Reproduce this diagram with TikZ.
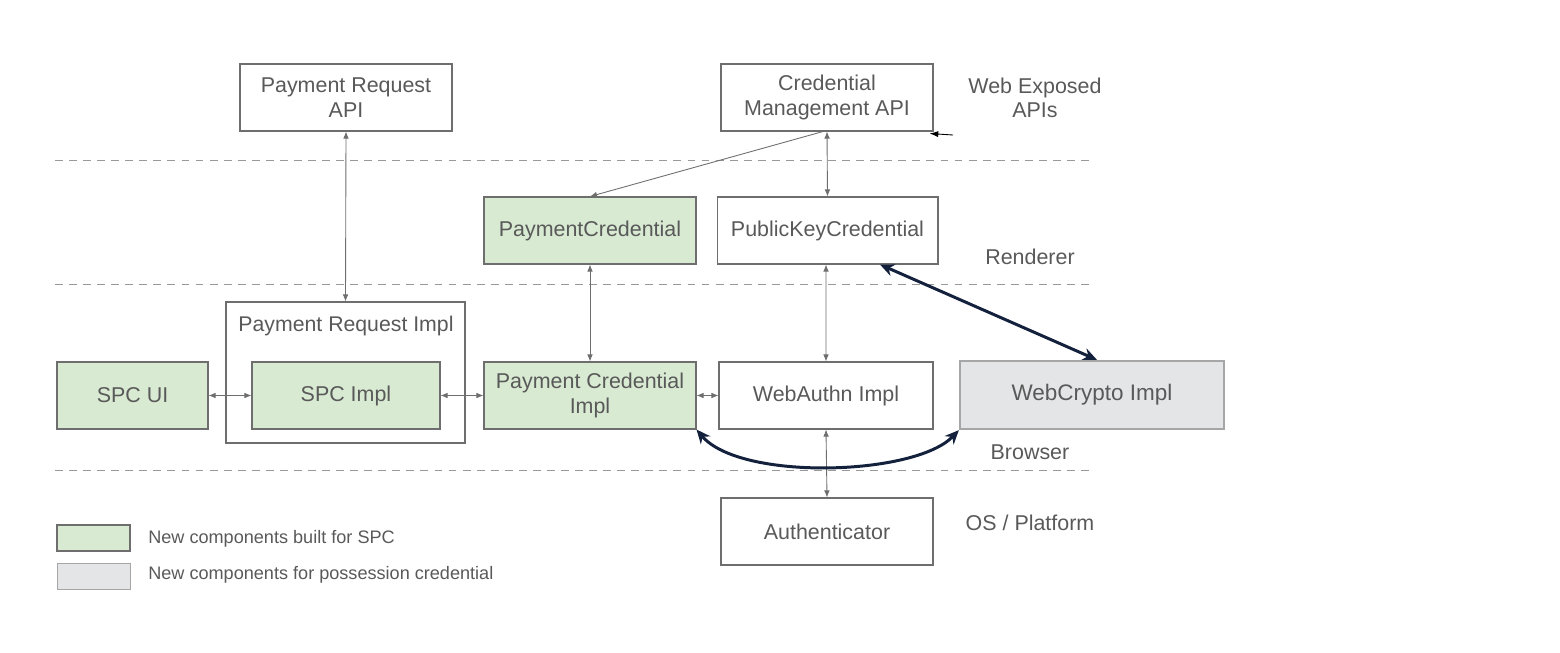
\documentclass[tikz,border=0pt]{standalone}
\usepackage{fontspec}
\setmainfont{Liberation Sans}
\usetikzlibrary{arrows.meta}

\definecolor{txtgray}{HTML}{595959}
\definecolor{boxline}{HTML}{6E6E6E}
\definecolor{spcgreen}{HTML}{D9EAD3}
\definecolor{possgray}{HTML}{E4E5E7}
\definecolor{possline}{HTML}{A6A6A6}
\definecolor{navy}{HTML}{14213D}

\tikzset{
  comp/.style={draw=boxline, line width=0.6pt, text=txtgray, align=center,
    font=\fontsize{12.2}{13.8}\selectfont, inner sep=0pt, minimum height=1.34cm},
  newcomp/.style={comp, fill=spcgreen},
  posscomp/.style={comp, fill=possgray, draw=possline, line width=1.3pt},
  layer/.style={text=txtgray, align=center, font=\fontsize{12.2}{13.8}\selectfont},
  legendtext/.style={text=txtgray, anchor=west, inner sep=0pt, font=\fontsize{10.3}{12}\selectfont},
  link/.style={draw=boxline, line width=0.5pt, {Latex[length=4pt,width=3.2pt]}-{Latex[length=4pt,width=3.2pt]}},
  boldlink/.style={draw=navy, line width=1.7pt, {Stealth[length=8pt,width=7pt]}-{Stealth[length=8pt,width=7pt]}}
}

\begin{document}
\begin{tikzpicture}[x=0.02cm,y=-0.02cm]
\useasboundingbox (0,0) rectangle (1560,653);

% layer separators
\foreach \y in {160,284,470}
   \draw[gray!80, line width=0.55pt, dash pattern=on 4.5pt off 3.5pt] (55,\y) -- (1090,\y);

\node[comp, minimum width=4.24cm] (prapi) at (346,97.5) {Payment Request\\API};
\node[comp, minimum width=4.24cm] (cmapi) at (827,97.5) {Credential\\Management API};
\node[layer] (webapis) at (1035,98) {Web Exposed\\APIs};

\node[newcomp, minimum width=4.24cm] (paycred) at (590,230.5) {PaymentCredential};
\node[comp, minimum width=4.42cm] (pkcred) at (827.5,230.5) {PublicKeyCredential};
\node[layer] (renderer) at (1030,257) {Renderer};

\node[comp, minimum width=4.78cm, minimum height=2.82cm] (primpl) at (345.5,372.5) {};
\node[layer, font=\fontsize{12.1}{14}\selectfont] (primpllabel) at (346,326) {Payment Request Impl};
\node[newcomp, minimum width=3.02cm] (spcui) at (132.5,395.5) {SPC UI};
\node[newcomp, minimum width=3.76cm] (spcimpl) at (346,395.5) {SPC Impl};
\node[newcomp, minimum width=4.24cm] (pcimpl) at (590,395.5) {Payment Credential\\Impl};
\node[comp, minimum width=4.28cm] (waimpl) at (826,395.5) {WebAuthn Impl};
\node[posscomp, minimum width=5.28cm, minimum height=1.36cm, font=\fontsize{12.8}{14}\selectfont] (wcimpl) at (1092,395) {WebCrypto Impl};
\node[layer] (browser) at (1030,452) {Browser};

\node[comp, minimum width=4.24cm] (auth) at (827,531.5) {Authenticator};
\node[layer] (osplat) at (1030,523) {OS / Platform};

\node[newcomp, minimum width=1.46cm, minimum height=0.52cm] (legspc) at (93.5,538) {};
\node[legendtext] (legspctext) at (148,539) {New components built for SPC};
\node[posscomp, line width=1pt, minimum width=1.46cm, minimum height=0.52cm] (legposs) at (94,576.5) {};
\node[legendtext] (legposstext) at (148,575) {New components for possession credential};

\draw[link] (prapi.south) -- (primpl.north);
\draw[link] (cmapi.south) -- (pkcred.north);
\draw[draw=boxline, line width=0.5pt, -{Latex[length=4pt,width=3.2pt]}] ([xshift=-0.08cm]cmapi.south) -- (paycred.north);
\draw[link] (paycred.south) -- (pcimpl.north);
\draw[link] ([xshift=-0.03cm]pkcred.south) -- (waimpl.north);
\draw[link] (spcui.east) -- (spcimpl.west);
\draw[link] (spcimpl.east) -- (pcimpl.west);
\draw[link] (pcimpl.east) -- (waimpl.west);
\draw[link] (waimpl.south) -- (auth.north);

\coordinate (webapisend) at (953,135);
\draw[black, line width=0.5pt, -{Latex[length=5pt,width=3.5pt]}] (webapisend) -- ([shift={(-0.08cm,-0.04cm)}]cmapi.south east);

\draw[boldlink] ([xshift=1.05cm]pkcred.south) -- ([xshift=0.1cm]wcimpl.north);
\draw[boldlink] (pcimpl.south east) .. controls (740,481) and (915,476) .. (wcimpl.south west);

\end{tikzpicture}
\end{document}
